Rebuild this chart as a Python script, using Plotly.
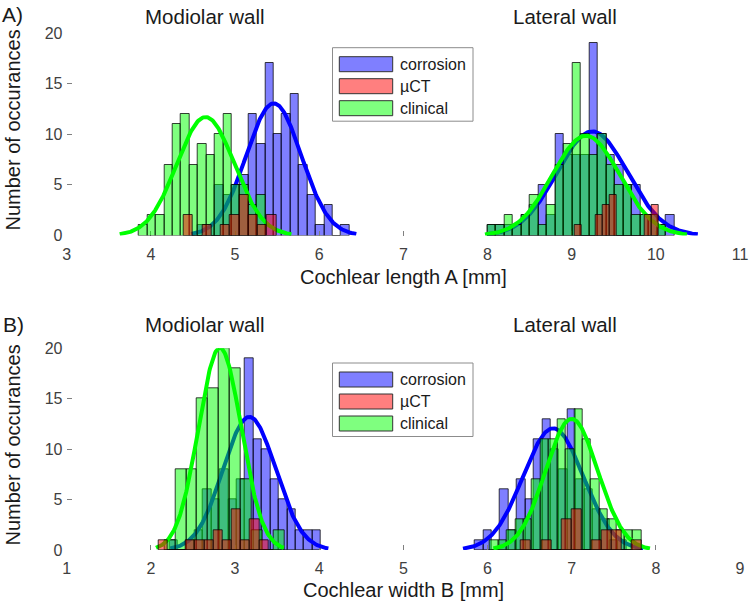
import numpy as np
import plotly.graph_objects as go

W, H = 749, 604

# ---------------- Data ----------------
# Panel A: cochlear length A [mm]; each histogram: first bin edge, bin width, counts
A_mod_corr_start, A_mod_corr_bw = 4.56, 0.10
A_mod_corr_counts = [1, 1, 5, 4, 5, 6, 12, 9, 17, 10, 12, 14, 7, 4, 1, 3, 0, 1]
A_mod_clin_start, A_mod_clin_bw = 3.86, 0.10
A_mod_clin_counts = [1, 2, 2, 7, 11, 12, 7, 9, 8, 10, 12, 5, 5, 3, 4]
A_mod_ct_start, A_mod_ct_bw = 4.39, 0.11
A_mod_ct_counts = [2, 0, 1, 0, 1, 2, 4, 2, 1, 2]

A_lat_corr_start, A_lat_corr_bw = 8.00, 0.101
A_lat_corr_counts = [1, 1, 1, 1, 2, 3, 5, 2, 10, 8, 8, 8, 19, 10, 8, 7, 5, 5, 2, 2, 1, 2]
A_lat_clin_start, A_lat_clin_bw = 8.00, 0.101
A_lat_clin_counts = [1, 1, 2, 1, 2, 4, 1, 3, 7, 9, 17, 10, 8, 10, 7, 5, 5, 2, 2, 2, 1]
A_lat_ct_start, A_lat_ct_bw = 9.04, 0.083
A_lat_ct_counts = [1, 0, 0, 2, 3, 4, 0, 0, 0, 0, 2, 3]

# Panel B: cochlear width B [mm]
B_mod_corr_start, B_mod_corr_bw = 2.22, 0.10
B_mod_corr_counts = [1, 0, 1, 2, 6, 5, 8, 5, 7, 19, 11, 10, 7, 5, 4, 2, 2, 2]
B_mod_clin_start, B_mod_clin_bw = 2.16, 0.13
B_mod_clin_counts = [1, 8, 8, 15, 16, 20, 18, 7, 2, 0, 2]
B_mod_ct_start, B_mod_ct_bw = 2.09, 0.109
B_mod_ct_counts = [1, 0, 0, 1, 1, 1, 2, 1, 4, 1, 3, 1]

B_lat_corr_start, B_lat_corr_bw = 5.85, 0.10
B_lat_corr_counts = [1, 2, 0, 6, 2, 7, 5, 11, 13, 10, 8, 14, 7, 6, 4, 3, 1, 1]
B_lat_clin_start, B_lat_clin_bw = 6.03, 0.10
B_lat_clin_counts = [1, 1, 2, 3, 3, 7, 11, 11, 13, 10, 14, 11, 7, 4, 3, 2, 2, 2]
B_lat_ct_start, B_lat_ct_bw = 6.40, 0.119
B_lat_ct_counts = [1, 0, 1, 0, 3, 4, 0, 1, 2, 2, 0, 1]

# Normal fits (mean, sigma, peak height)
A_fit_corr = [(5.46, 0.327, 13.05), (9.245, 0.418, 10.28)]
A_fit_clin = [(4.65, 0.340, 11.7), (9.17, 0.400, 9.85)]
B_fit_corr = [(3.17, 0.313, 13.2), (6.78, 0.357, 12.07)]
B_fit_clin = [(2.82, 0.253, 20.05), (7.00, 0.310, 13.0)]

series_names = ["corrosion", "\u00b5CT", "clinical"]
y_ticks = [0, 5, 10, 15, 20]
A_x_ticks = [3, 4, 5, 6, 7, 8, 9, 10, 11]
B_x_ticks = [1, 2, 3, 4, 5, 6, 7, 8, 9]

# ---------------- Styling ----------------
FONT = "Liberation Sans, Arial, Helvetica, sans-serif"
BAR_BLUE = "rgba(0,0,255,0.5)"
BAR_RED = "rgba(255,0,0,0.5)"
BAR_GREEN = "rgba(0,255,0,0.5)"
EDGE = "rgba(0,0,0,0.75)"
AXC = "#808080"
TXT = "#404040"

# plot area in pixels
X0, X1 = 66.7, 740.0
A_Y0, A_Y1 = 33.0, 235.5     # top, bottom (px from top)
B_Y0, B_Y1 = 348.3, 550.0


def px(x):
    return x / W


def py(y):
    return 1 - y / H


fig = go.Figure()


def bars(start, bw, counts, color, xa, ya, z, name):
    n = len(counts)
    centers = [start + bw * (i + 0.5) for i in range(n)]
    fig.add_trace(go.Bar(
        x=centers, y=counts, width=[bw] * n,
        marker=dict(color=color, line=dict(color=EDGE, width=1)),
        xaxis=xa, yaxis=ya, zorder=z, name=name, showlegend=False,
        hoverinfo="x+y"))


def curve(fit, color, xa, ya, z, name):
    mu, s, pk = fit
    xs = np.linspace(mu - 3 * s, mu + 3 * s, 200)
    ys = pk * np.exp(-0.5 * ((xs - mu) / s) ** 2)
    fig.add_trace(go.Scatter(
        x=xs, y=ys, mode="lines", line=dict(color=color, width=4),
        xaxis=xa, yaxis=ya, zorder=z, name=name, showlegend=False,
        hoverinfo="skip"))


panels = [
    ("x", "y",
     [(A_mod_corr_start, A_mod_corr_bw, A_mod_corr_counts), (A_lat_corr_start, A_lat_corr_bw, A_lat_corr_counts)],
     [(A_mod_clin_start, A_mod_clin_bw, A_mod_clin_counts), (A_lat_clin_start, A_lat_clin_bw, A_lat_clin_counts)],
     [(A_mod_ct_start, A_mod_ct_bw, A_mod_ct_counts), (A_lat_ct_start, A_lat_ct_bw, A_lat_ct_counts)],
     A_fit_corr, A_fit_clin),
    ("x2", "y2",
     [(B_mod_corr_start, B_mod_corr_bw, B_mod_corr_counts), (B_lat_corr_start, B_lat_corr_bw, B_lat_corr_counts)],
     [(B_mod_clin_start, B_mod_clin_bw, B_mod_clin_counts), (B_lat_clin_start, B_lat_clin_bw, B_lat_clin_counts)],
     [(B_mod_ct_start, B_mod_ct_bw, B_mod_ct_counts), (B_lat_ct_start, B_lat_ct_bw, B_lat_ct_counts)],
     B_fit_corr, B_fit_clin),
]

for xa, ya, corr, clin, ct, fcorr, fclin in panels:
    for h in corr:
        bars(*h, BAR_BLUE, xa, ya, 1, series_names[0])
    for f in fcorr:
        curve(f, "rgb(0,0,255)", xa, ya, 2, series_names[0] + " fit")
    for h in clin:
        bars(*h, BAR_GREEN, xa, ya, 3, series_names[2])
    for f in fclin:
        curve(f, "rgb(0,255,0)", xa, ya, 4, series_names[2] + " fit")
    for h in ct:
        bars(*h, BAR_RED, xa, ya, 5, series_names[1])

axis_common = dict(showline=True, linecolor=AXC, linewidth=1, mirror=False,
                   ticks="inside", ticklen=5, tickcolor=AXC, tickwidth=1,
                   showgrid=False, zeroline=False, automargin=False,
                   tickfont=dict(family=FONT, size=16, color=TXT))

fig.update_layout(
    width=W, height=H, margin=dict(l=0, r=0, t=0, b=0),
    paper_bgcolor="white", plot_bgcolor="white",
    barmode="overlay", bargap=0, showlegend=False,
    xaxis=dict(domain=[px(X0), px(X1)], range=[3, 11], tickvals=A_x_ticks, anchor="y",
               ticklabelstandoff=4, **axis_common),
    yaxis=dict(domain=[py(A_Y1), py(A_Y0)], range=[0, 20], tickvals=y_ticks, anchor="x", **axis_common),
    xaxis2=dict(domain=[px(X0), px(X1)], range=[1, 9], tickvals=B_x_ticks, anchor="y2",
                ticklabelstandoff=4, **axis_common),
    yaxis2=dict(domain=[py(B_Y1), py(B_Y0)], range=[0, 20], tickvals=y_ticks, anchor="x2", **axis_common),
)

annotations = []


def text(x, y, s, size, color="#1a1a1a", angle=0, xanchor="center"):
    annotations.append(dict(x=px(x), y=py(y), xref="paper", yref="paper", text=s,
                            showarrow=False, xanchor=xanchor, yanchor="middle",
                            textangle=angle, font=dict(family=FONT, size=size, color=color)))


# panel labels and titles
text(12.5, 15, "A)", 21)
text(13.5, 324, "B)", 21)
for ytop in (16, 324):
    text(205, ytop, "Modiolar wall", 20.5)
    text(565, ytop, "Lateral wall", 20.5)
text(12.5, 130, "Number of occurances", 20, angle=-90)
text(12.5, 445, "Number of occurances", 20, angle=-90)
text(403, 277, "Cochlear length A [mm]", 20)
text(403, 590, "Cochlear width B [mm]", 20)

# legends (one in each panel)
shapes = []
leg_colors = [BAR_BLUE, BAR_RED, BAR_GREEN]
for top in (47.7, 363.0):
    shapes.append(dict(type="rect", xref="paper", yref="paper",
                       x0=px(332.5), x1=px(473.0), y0=py(top + 73.5), y1=py(top),
                       line=dict(color="#8c8c8c", width=1), fillcolor="white", layer="above"))
    for i, (nm, col) in enumerate(zip(series_names, leg_colors)):
        r0 = top + 9.0 + i * 22.0
        shapes.append(dict(type="rect", xref="paper", yref="paper",
                           x0=px(339.3), x1=px(392.7), y0=py(r0 + 15), y1=py(r0),
                           line=dict(color="#333333", width=1), fillcolor=col, layer="above"))
        text(398.3, r0 + 7.5, nm, 16, color="#1a1a1a", xanchor="left")

fig.update_layout(annotations=annotations, shapes=shapes)

fig.write_html("out.html", config={"displayModeBar": False},
               post_script="document.body.style.margin='0';document.body.style.padding='0';"
                           "document.body.style.overflow='hidden';")
